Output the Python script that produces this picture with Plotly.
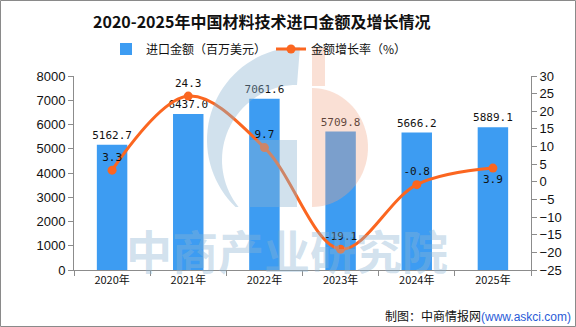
import numpy as np
import plotly.graph_objects as go

years = ["2020年", "2021年", "2022年", "2023年", "2024年", "2025年"]
import_value = [5162.7, 6437.0, 7061.6, 5709.8, 5666.2, 5889.1]
growth_rate = [3.3, 24.3, 9.7, -19.1, -0.8, 3.9]
bar_labels = ["5162.7", "6437.0", "7061.6", "5709.8", "5666.2", "5889.1"]
rate_labels = ["3.3", "24.3", "9.7", "-19.1", "-0.8", "3.9"]
rate_pos = ["top center", "top center", "top center", "top center", "top center", "bottom center"]

W, H = 576, 327
L, R, T, B = 74, 45, 76, 57
PW, PH = W - L - R, H - T - B


def px(x, y):
    return (x - L) / PW, (H - B - y) / PH


def poly_path(pts):
    s = []
    for i, (x, y) in enumerate(pts):
        a, b = px(x, y)
        s.append(("M" if i == 0 else "L") + f"{a:.5f},{b:.5f}")
    return " ".join(s) + " Z"


BAR_C = "#3d9cf2"
LINE_C = "#fb6620"
AX_C = "#8c8c8c"

fig = go.Figure()
fig.add_trace(go.Bar(
    x=years, y=import_value, name="进口金额（百万美元）",
    marker=dict(color=BAR_C, line=dict(width=0)), width=0.4,
    text=bar_labels, textposition="outside", constraintext="none",
    textfont=dict(family="DejaVu Sans Mono", size=11, color="#111"),
    cliponaxis=False, yaxis="y",
))
fig.add_trace(go.Scatter(
    x=years, y=growth_rate, name="金额增长率（%）", yaxis="y2",
    mode="lines+markers+text", line=dict(color=LINE_C, width=3, shape="spline", smoothing=1.0),
    marker=dict(color=LINE_C, size=9),
    text=rate_labels, textposition=rate_pos,
    textfont=dict(family="DejaVu Sans Mono", size=11, color="#111"),
    cliponaxis=False,
))

# watermark logo (approximate)
shapes = []
th1 = np.radians(np.linspace(90, 226.1, 40))
outer = [(300 + 93 * np.cos(t), 140 - 93 * np.sin(t)) for t in th1]
th2 = np.radians(np.linspace(218.8, 90, 40))
inner = [(297 + 75 * np.cos(t), 160 - 75 * np.sin(t)) for t in th2]
blue = "rgba(140,180,210,0.4)"
orange = "rgba(240,165,135,0.35)"
shapes.append(dict(type="path", xref="paper", yref="paper", path=poly_path(outer + inner),
                   fillcolor=blue, line=dict(width=0), layer="above"))
shapes.append(dict(type="path", xref="paper", yref="paper",
                   path=poly_path([(250, 140), (297, 140), (297, 207), (250, 207)]),
                   fillcolor=blue, line=dict(width=0), layer="above"))
shapes.append(dict(type="path", xref="paper", yref="paper",
                   path=poly_path([(312, 47), (325, 47), (325, 86), (312, 86)]),
                   fillcolor=orange, line=dict(width=0), layer="above"))
th3 = np.radians(np.linspace(90, -90, 40))
half = [(312 + 56 * np.cos(t), 147.5 - 59.5 * np.sin(t)) for t in th3]
shapes.append(dict(type="path", xref="paper", yref="paper", path=poly_path(half),
                   fillcolor=orange, line=dict(width=0), layer="above"))
# outer frame
x0, y0 = px(0.5, 0.5)
x1, y1 = px(W - 0.5, H - 0.5)
shapes.append(dict(type="rect", xref="paper", yref="paper", x0=x0, y0=y0, x1=x1, y1=y1,
                   line=dict(color="#8a8a8a", width=1), fillcolor="rgba(0,0,0,0)", layer="above"))

annotations = []
tx, ty = px(261, 21)
annotations.append(dict(text="<b>2020-2025年中国材料技术进口金额及增长情况</b>", x=tx, y=ty,
                        xref="paper", yref="paper", showarrow=False, xanchor="center", yanchor="middle",
                        font=dict(family="Noto Sans CJK SC", size=16, color="#111")))
wx, wy = px(287, 249)
annotations.append(dict(text="中商产业研究院", x=wx, y=wy, xref="paper", yref="paper", showarrow=False,
                        xanchor="center", yanchor="middle",
                        font=dict(family="Noto Sans CJK SC", size=46, color="rgba(140,180,210,0.4)", weight="bold")))
fx, fy = px(573, 315)
annotations.append(dict(text="制图：中商情报网<span style='color:#2a5bd7;font-family:Liberation Sans'>(www.askci.com)</span>",
                        x=fx, y=fy, xref="paper", yref="paper", showarrow=False, xanchor="right", yanchor="middle",
                        font=dict(family="Noto Sans CJK SC", size=12, color="#111")))

lx, ly = px(106, 49)
fig.update_layout(
    width=W, height=H, margin=dict(l=L, r=R, t=T, b=B, pad=0),
    paper_bgcolor="white", plot_bgcolor="white",
    showlegend=True,
    legend=dict(orientation="h", x=lx, y=ly, xanchor="left", yanchor="middle",
                font=dict(family="Noto Sans CJK SC", size=12, color="#111"),
                bgcolor="rgba(0,0,0,0)", itemwidth=30, traceorder="normal"),
    xaxis=dict(type="category", showline=True, linecolor=AX_C, linewidth=1, ticks="outside",
               tickson="boundaries", ticklen=5, tickcolor=AX_C, showgrid=False,
               tickfont=dict(family="Noto Sans CJK SC", size=11, color="#111"), range=[-0.5, 5.5]),
    yaxis=dict(range=[0, 8000], dtick=1000, showline=True, linecolor=AX_C, ticks="outside",
               ticklen=5, tickcolor=AX_C, showgrid=False, zeroline=False,
               tickfont=dict(family="Liberation Sans", size=13, color="#111")),
    yaxis2=dict(range=[-25, 30], dtick=5, overlaying="y", side="right", showline=True, linecolor=AX_C,
                ticks="outside", ticklen=5, tickcolor=AX_C, showgrid=False, zeroline=False,
                tickfont=dict(family="Liberation Sans", size=13, color="#111")),
    shapes=shapes, annotations=annotations,
    bargap=0.6,
)
fig.write_html("out.html")
